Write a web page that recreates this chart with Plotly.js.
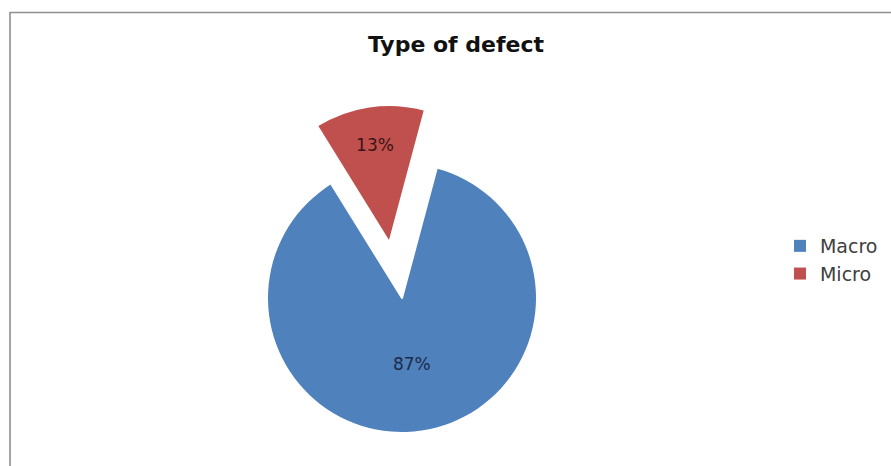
<!DOCTYPE html>
<html>
<head>
<meta charset="utf-8">
<script src="https://cdn.plot.ly/plotly-3.0.1.min.js"></script>
<style>html,body{margin:0;padding:0;background:#fff;overflow:hidden}#chart{width:891px;height:466px}</style>
</head>
<body>
<div id="chart"></div>
<script>
// ---- data ----
const categories = ['Macro', 'Micro'];
const values = [87, 13];
const sliceColors = ['#4F81BD', '#C0504D'];
const chartTitle = 'Type of defect';

// ---- layout helpers (pixel geometry) ----
const W = 891, H = 466;
const R = 134;
const mainCenter = [402, 298];
const pulledCenter = [389, 240];
function domainFor(c) {
  return {
    x: [(c[0] - R) / W, (c[0] + R) / W],
    y: [1 - (c[1] + R) / H, 1 - (c[1] - R) / H]
  };
}
const common = {
  type: 'pie', labels: categories, values: values, sort: false,
  direction: 'clockwise', rotation: 15, hoverinfo: 'none',
  textposition: 'inside', insidetextorientation: 'horizontal',
  textfont: {family: 'DejaVu Sans', size: 17},
};
const traceMain = Object.assign({}, common, {
  domain: domainFor(mainCenter),
  marker: {colors: sliceColors, line: {width: 0}},
  texttemplate: ['%{percent}', ''],
  insidetextfont: {family: 'DejaVu Sans', size: 17, color: ['#1c2a48', '#3a1414']},
  showlegend: true
});
const traceCover = Object.assign({}, common, {
  domain: domainFor(mainCenter),
  marker: {colors: ['rgba(0,0,0,0)', '#ffffff'], line: {width: [0, 2], color: ['rgba(0,0,0,0)', '#ffffff']}},
  texttemplate: ['', ''],
  showlegend: false
});
const tracePulled = Object.assign({}, common, {
  domain: domainFor(pulledCenter),
  marker: {colors: ['rgba(0,0,0,0)', sliceColors[1]], line: {width: 0}},
  texttemplate: ['', '%{percent}'],
  insidetextfont: {family: 'DejaVu Sans', size: 17, color: ['#1c2a48', '#3a1414']},
  showlegend: false
});

const layout = {
  width: W, height: H,
  margin: {l: 0, r: 0, t: 0, b: 0},
  paper_bgcolor: '#ffffff',
  title: {
    text: '<b>' + chartTitle + '</b>',
    font: {family: 'DejaVu Sans', size: 22, color: '#111111'},
    x: 456 / W, xanchor: 'center', xref: 'paper',
    y: 1 - 44 / H, yanchor: 'middle', yref: 'container'
  },
  legend: {
    x: 0.8754, xanchor: 'left', y: 1 - 260 / H, yanchor: 'middle',
    font: {family: 'DejaVu Sans', size: 19, color: '#404040'},
    bgcolor: 'rgba(0,0,0,0)'
  },
  shapes: [
    {type: 'line', xref: 'paper', yref: 'paper', x0: 10 / W, x1: 1.05, y0: 1 - 12.5 / H, y1: 1 - 12.5 / H, line: {color: '#8f8f8f', width: 1.6}},
    {type: 'line', xref: 'paper', yref: 'paper', x0: 10 / W, x1: 10 / W, y0: 1 - 12 / H, y1: -0.05, line: {color: '#8f8f8f', width: 1.6}}
  ]
};
Plotly.newPlot('chart', [traceMain, traceCover, tracePulled], layout, {displayModeBar: false, staticPlot: true});
</script>
</body>
</html>
